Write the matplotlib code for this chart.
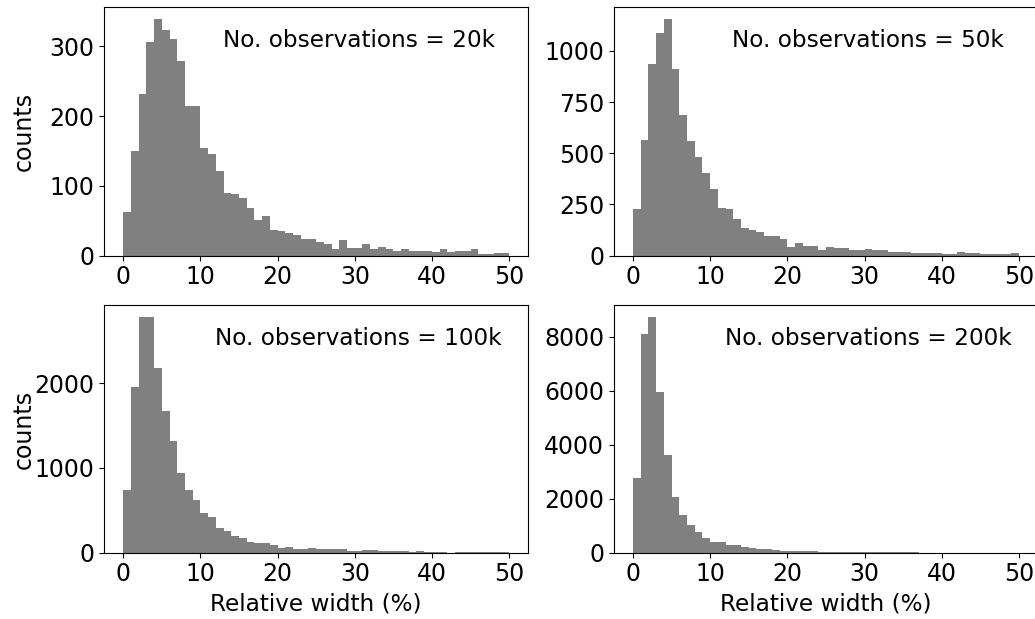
import numpy as np
import matplotlib
matplotlib.use("Agg")
import matplotlib.pyplot as plt

# bin edges: 50 bins of width 1 between 0 and 50 (%)
edges = np.arange(0, 51, 1)

# counts per bin
counts_20k = [63, 150, 232, 307, 339, 323, 310, 279, 214, 215,
              154, 146, 122, 90, 89, 83, 69, 51, 57, 37,
              35, 32, 29, 24, 24, 20, 17, 9, 23, 11,
              11, 16, 10, 12, 9, 7, 10, 7, 7, 7,
              5, 10, 5, 7, 7, 9, 3, 2, 4, 4]
counts_50k = [227, 564, 938, 1090, 1155, 912, 688, 562, 484, 402,
              327, 234, 229, 180, 137, 126, 114, 95, 95, 82,
              42, 60, 46, 46, 29, 41, 36, 36, 28, 28,
              31, 26, 26, 20, 20, 20, 15, 13, 13, 13,
              10, 10, 18, 11, 11, 8, 10, 10, 7, 11]
counts_100k = [736, 1953, 2780, 2780, 2173, 1677, 1319, 937, 744, 622,
               469, 421, 295, 260, 193, 173, 126, 118, 114, 87,
               51, 67, 47, 47, 55, 39, 39, 39, 43, 24,
               24, 28, 28, 16, 16, 16, 16, 8, 16, 8,
               8, 8, 3, 8, 8, 8, 4, 4, 4, 4]
counts_200k = [2766, 8100, 8741, 5951, 3642, 2062, 1383, 1013, 753, 531,
               395, 383, 295, 272, 200, 175, 140, 125, 105, 75,
               60, 70, 55, 50, 45, 35, 30, 28, 25, 20,
               18, 16, 15, 13, 12, 11, 10, 9, 8, 4,
               3, 2, 2, 2, 2, 2, 2, 2, 2, 2]

labels = ["No. observations = 20k", "No. observations = 50k",
          "No. observations = 100k", "No. observations = 200k"]
all_counts = [counts_20k, counts_50k, counts_100k, counts_200k]

plt.rcParams["font.size"] = 17

fig = plt.figure(figsize=(10.35, 6.19), dpi=100)
# axes placed by hand, right column runs a little past the figure edge
pos = [[0.1005, 0.587, 0.410, 0.401],
       [0.593, 0.587, 0.410, 0.401],
       [0.1005, 0.107, 0.410, 0.400],
       [0.593, 0.107, 0.410, 0.400]]

for i in range(4):
    ax = fig.add_axes(pos[i])
    ax.hist(edges[:-1], bins=edges, weights=all_counts[i], color="gray")
    ax.text(0.6, 0.839, labels[i], transform=ax.transAxes,
            ha="center", va="baseline", fontsize=16.7)
    ax.set_xticks([0, 10, 20, 30, 40, 50])
    if i % 2 == 0:
        ax.set_ylabel("counts")
        ax.yaxis.set_label_coords(-0.16, 0.5)
    if i >= 2:
        ax.set_xlabel("Relative width (%)", fontsize=16.7)

plt.savefig("out.png", dpi=100)
